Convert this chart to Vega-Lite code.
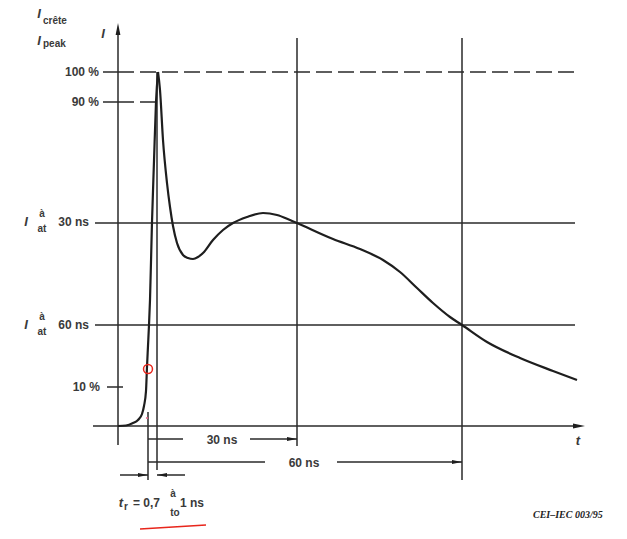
{
  "$schema": "https://vega.github.io/schema/vega-lite/v6.json",
  "width": 627,
  "height": 539,
  "autosize": {"type": "fit", "contains": "padding"},
  "padding": 0,
  "background": "white",
  "config": {"view": {"stroke": null}},
  "datasets": {
    "segs": [
      {"name": "y axis", "t": 0, "i": -19, "t2": 0, "i2": 397, "style": "solid"},
      {"name": "t axis", "t": -25, "i": 0, "t2": 462, "i2": 0, "style": "solid"},
      {"name": "I at 30 ns", "t": -23, "i": 203, "t2": 457, "i2": 203, "style": "solid"},
      {"name": "I at 60 ns", "t": -23, "i": 101, "t2": 457, "i2": 101, "style": "solid"},
      {"name": "tick 100", "t": -15, "i": 354, "t2": 0, "i2": 354, "style": "solid"},
      {"name": "tick 90", "t": -15, "i": 324, "t2": 0, "i2": 324, "style": "solid"},
      {"name": "tick 10", "t": -11, "i": 39, "t2": 5, "i2": 39, "style": "solid"},
      {"name": "peak time", "t": 39, "i": 354, "t2": 39, "i2": -44, "style": "solid"},
      {"name": "10% time", "t": 30, "i": 14, "t2": 30, "i2": -54, "style": "solid"},
      {"name": "30 ns", "t": 179, "i": 388, "t2": 179, "i2": -20, "style": "solid"},
      {"name": "60 ns", "t": 344, "i": 388, "t2": 344, "i2": -54, "style": "solid"},
      {"name": "dim30 a", "t": 30, "i": -13, "t2": 65, "i2": -13, "style": "solid"},
      {"name": "dim30 b", "t": 132, "i": -13, "t2": 179, "i2": -13, "style": "solid"},
      {"name": "dim60 a", "t": 30, "i": -36, "t2": 147, "i2": -36, "style": "solid"},
      {"name": "dim60 b", "t": 219, "i": -36, "t2": 344, "i2": -36, "style": "solid"},
      {"name": "tr a", "t": 2, "i": -49, "t2": 30, "i2": -49, "style": "solid"},
      {"name": "tr b", "t": 39, "i": -49, "t2": 67, "i2": -49, "style": "solid"},
      {"name": "100 %", "t": 0, "i": 354, "t2": 457, "i2": 354, "style": "dash"},
      {"name": "90 %", "t": 0, "i": 324, "t2": 38, "i2": 324, "style": "dash"}
    ],
    "wave": [
      {"t": 0, "i": 0}, {"t": 8, "i": 0.5}, {"t": 15, "i": 3}, {"t": 20, "i": 6},
      {"t": 24, "i": 12}, {"t": 26, "i": 20}, {"t": 28, "i": 35}, {"t": 29, "i": 59},
      {"t": 30, "i": 80}, {"t": 31, "i": 101}, {"t": 32, "i": 126}, {"t": 34, "i": 204},
      {"t": 36, "i": 265}, {"t": 38, "i": 324}, {"t": 40, "i": 354},
      {"t": 42, "i": 336}, {"t": 45, "i": 286}, {"t": 49, "i": 243}, {"t": 52, "i": 219},
      {"t": 55, "i": 200}, {"t": 59, "i": 183}, {"t": 65, "i": 171}, {"t": 70, "i": 168},
      {"t": 75, "i": 167}, {"t": 80, "i": 169}, {"t": 85, "i": 173}, {"t": 95, "i": 186},
      {"t": 105, "i": 196}, {"t": 115, "i": 203}, {"t": 129, "i": 209}, {"t": 145, "i": 213},
      {"t": 159, "i": 211}, {"t": 172, "i": 206}, {"t": 179, "i": 203}, {"t": 215, "i": 187},
      {"t": 242, "i": 177}, {"t": 265, "i": 166}, {"t": 282, "i": 154}, {"t": 299, "i": 138},
      {"t": 315, "i": 123}, {"t": 332, "i": 109}, {"t": 344, "i": 101}, {"t": 369, "i": 84},
      {"t": 402, "i": 68}, {"t": 435, "i": 55}, {"t": 459, "i": 46}
    ],
    "arrows": [
      {"name": "I axis", "t": 0, "i": 397, "dir": "up"},
      {"name": "t axis", "t": 461, "i": 0, "dir": "right"},
      {"name": "30 ns", "t": 174, "i": -13, "dir": "right"},
      {"name": "60 ns", "t": 339, "i": -36, "dir": "right"},
      {"name": "tr a", "t": 25, "i": -49, "dir": "right"},
      {"name": "tr b", "t": 44, "i": -49, "dir": "left"}
    ],
    "texts": [
      {"text": "100 %", "t": -19, "i": 354, "kind": "r"},
      {"text": "90 %", "t": -19, "i": 324, "kind": "r"},
      {"text": "10 %", "t": -18, "i": 39, "kind": "r"},
      {"text": "30 ns", "t": -29, "i": 204, "kind": "r"},
      {"text": "60 ns", "t": -29, "i": 101, "kind": "r"},
      {"text": "30 ns", "t": 104, "i": -14, "kind": "c"},
      {"text": "60 ns", "t": 186, "i": -37, "kind": "c"},
      {"text": "= 0,7", "t": 15, "i": -77, "kind": "l"},
      {"text": "1 ns", "t": 62, "i": -77, "kind": "l"},
      {"text": "I", "t": -92, "i": 204, "kind": "it"},
      {"text": "I", "t": -92, "i": 101, "kind": "it"},
      {"text": "I", "t": -15, "i": 392, "kind": "it"},
      {"text": "I", "t": -79, "i": 412, "kind": "it"},
      {"text": "I", "t": -79, "i": 385, "kind": "it"},
      {"text": "t", "t": 460, "i": -15, "kind": "it"},
      {"text": "t", "t": 3, "i": -77, "kind": "it"},
      {"text": "à", "t": -76, "i": 212, "kind": "s"},
      {"text": "at", "t": -76, "i": 197, "kind": "s"},
      {"text": "à", "t": -76, "i": 109, "kind": "s"},
      {"text": "at", "t": -76, "i": 94, "kind": "s"},
      {"text": "à", "t": 55, "i": -68, "kind": "s"},
      {"text": "to", "t": 57, "i": -87, "kind": "s"},
      {"text": "r", "t": 8, "i": -81, "kind": "s"},
      {"text": "crête", "t": -75, "i": 405, "kind": "sl"},
      {"text": "peak", "t": -75, "i": 382, "kind": "sl"},
      {"text": "CEI–IEC  003/95", "t": 415, "i": -89, "kind": "credit"}
    ],
    "marks": [
      {"name": "circle", "t": 30, "i": 57},
      {"name": "dot", "t": 29, "i": 8}
    ],
    "underline": [
      {"t": 22, "i": -103}, {"t": 55, "i": -101}, {"t": 88, "i": -99}
    ]
  },
  "encoding": {
    "x": {"field": "t", "type": "quantitative", "scale": {"domain": [-118, 509], "nice": false, "zero": false}, "axis": null},
    "y": {"field": "i", "type": "quantitative", "scale": {"domain": [-113, 426], "nice": false, "zero": false}, "axis": null}
  },
  "layer": [
    {
      "data": {"name": "segs"},
      "transform": [{"filter": "datum.style === 'solid'"}],
      "mark": {"type": "rule", "color": "#2a2a2a", "strokeWidth": 1.5},
      "encoding": {
        "x2": {"field": "t2"},
        "y2": {"field": "i2"}
      }
    },
    {
      "data": {"name": "segs"},
      "transform": [{"filter": "datum.style === 'dash'"}],
      "mark": {"type": "rule", "color": "#2a2a2a", "strokeWidth": 1.4, "strokeDash": [16, 6]},
      "encoding": {
        "x2": {"field": "t2"},
        "y2": {"field": "i2"}
      }
    },
    {
      "data": {"name": "wave"},
      "transform": [{"filter": "datum.t <= 40"}],
      "mark": {"type": "line", "color": "#1e1e1e", "strokeWidth": 2.2, "interpolate": "monotone", "strokeJoin": "round"},
      "encoding": {}
    },
    {
      "data": {"name": "wave"},
      "transform": [{"filter": "datum.t >= 40"}],
      "mark": {"type": "line", "color": "#1e1e1e", "strokeWidth": 2.2, "interpolate": "monotone", "strokeJoin": "round"},
      "encoding": {}
    },
    {
      "data": {"name": "arrows"},
      "transform": [{"filter": "datum.dir === 'up'"}],
      "mark": {"type": "point", "shape": "M0,-1L0.4,1L-0.4,1Z", "size": 144, "filled": true, "color": "#1e1e1e", "opacity": 1},
      "encoding": {}
    },
    {
      "data": {"name": "arrows"},
      "transform": [{"filter": "datum.dir === 'right' && datum.name === 't axis'"}],
      "mark": {"type": "point", "shape": "M1,0L-1,-0.4L-1,0.4Z", "size": 144, "filled": true, "color": "#1e1e1e", "opacity": 1},
      "encoding": {}
    },
    {
      "data": {"name": "arrows"},
      "transform": [{"filter": "datum.dir === 'right' && datum.name !== 't axis'"}],
      "mark": {"type": "point", "shape": "M1,0L-1,-0.4L-1,0.4Z", "size": 100, "filled": true, "color": "#1e1e1e", "opacity": 1},
      "encoding": {}
    },
    {
      "data": {"name": "arrows"},
      "transform": [{"filter": "datum.dir === 'left'"}],
      "mark": {"type": "point", "shape": "M-1,0L1,-0.4L1,0.4Z", "size": 100, "filled": true, "color": "#1e1e1e", "opacity": 1},
      "encoding": {}
    },
    {
      "data": {"name": "texts"},
      "transform": [{"filter": "datum.kind === 'r'"}],
      "mark": {"type": "text", "align": "right", "baseline": "middle", "font": "Liberation Sans", "fontWeight": "bold", "fontSize": 12, "color": "#3a3a3a"},
      "encoding": {"text": {"field": "text"}}
    },
    {
      "data": {"name": "texts"},
      "transform": [{"filter": "datum.kind === 'c'"}],
      "mark": {"type": "text", "align": "center", "baseline": "middle", "font": "Liberation Sans", "fontWeight": "bold", "fontSize": 12, "color": "#3a3a3a"},
      "encoding": {"text": {"field": "text"}}
    },
    {
      "data": {"name": "texts"},
      "transform": [{"filter": "datum.kind === 'l'"}],
      "mark": {"type": "text", "align": "left", "baseline": "middle", "font": "Liberation Sans", "fontWeight": "bold", "fontSize": 12, "color": "#3a3a3a"},
      "encoding": {"text": {"field": "text"}}
    },
    {
      "data": {"name": "texts"},
      "transform": [{"filter": "datum.kind === 'it'"}],
      "mark": {"type": "text", "align": "center", "baseline": "middle", "font": "Liberation Sans", "fontStyle": "italic", "fontWeight": "bold", "fontSize": 13, "color": "#3a3a3a"},
      "encoding": {"text": {"field": "text"}}
    },
    {
      "data": {"name": "texts"},
      "transform": [{"filter": "datum.kind === 's'"}],
      "mark": {"type": "text", "align": "center", "baseline": "middle", "font": "Liberation Sans", "fontWeight": "bold", "fontSize": 10, "color": "#3a3a3a"},
      "encoding": {"text": {"field": "text"}}
    },
    {
      "data": {"name": "texts"},
      "transform": [{"filter": "datum.kind === 'sl'"}],
      "mark": {"type": "text", "align": "left", "baseline": "middle", "font": "Liberation Sans", "fontWeight": "bold", "fontSize": 10, "color": "#3a3a3a"},
      "encoding": {"text": {"field": "text"}}
    },
    {
      "data": {"name": "texts"},
      "transform": [{"filter": "datum.kind === 'credit'"}],
      "mark": {"type": "text", "align": "left", "baseline": "middle", "font": "Liberation Serif", "fontStyle": "italic", "fontWeight": "bold", "fontSize": 10, "color": "#222"},
      "encoding": {"text": {"field": "text"}}
    },
    {
      "data": {"name": "marks"},
      "transform": [{"filter": "datum.name === 'circle'"}],
      "mark": {"type": "point", "shape": "circle", "size": 80, "filled": false, "color": "#e8261c", "strokeWidth": 1.5, "opacity": 1},
      "encoding": {}
    },
    {
      "data": {"name": "marks"},
      "transform": [{"filter": "datum.name === 'dot'"}],
      "mark": {"type": "point", "shape": "circle", "size": 5, "filled": true, "color": "#e86a8a", "opacity": 1},
      "encoding": {}
    },
    {
      "data": {"name": "underline"},
      "mark": {"type": "line", "color": "#e8261c", "strokeWidth": 1.6, "interpolate": "monotone"},
      "encoding": {}
    }
  ]
}
